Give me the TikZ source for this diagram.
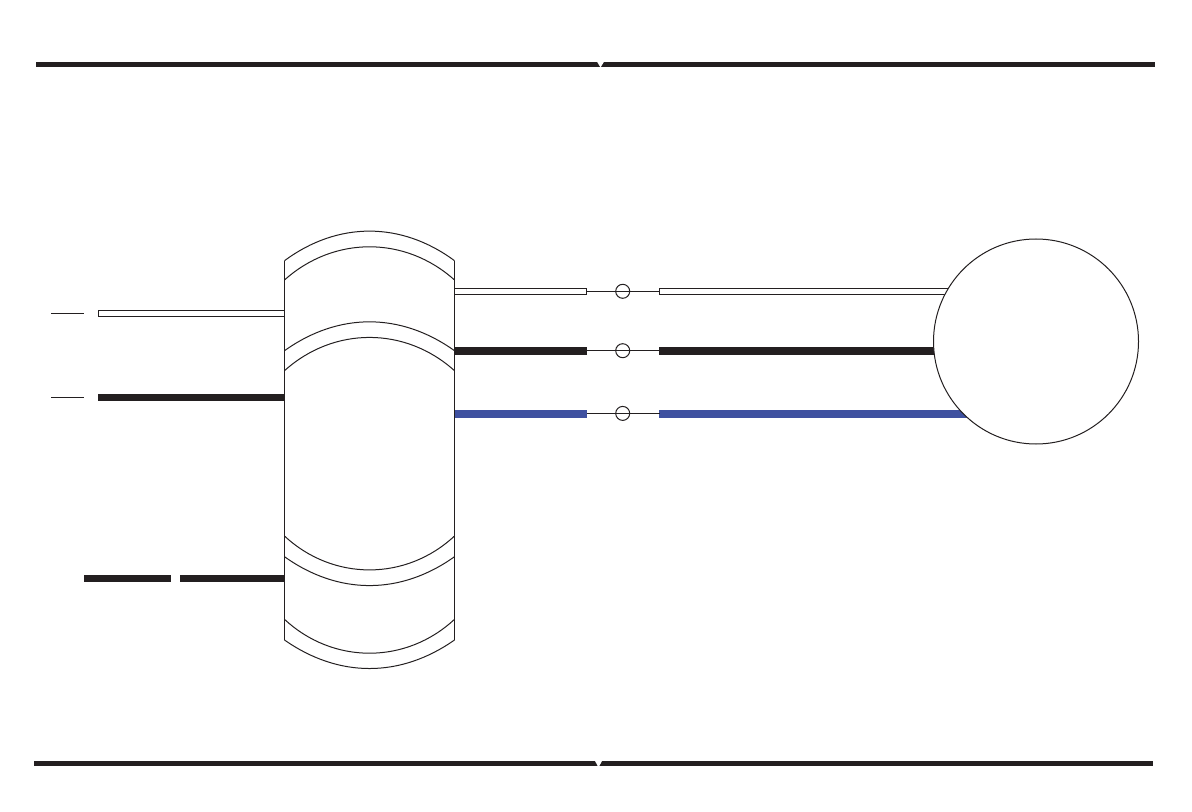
\documentclass[tikz,border=0pt]{standalone}
\usepackage{xcolor}
\definecolor{wireblack}{HTML}{231F20}
\definecolor{wireblue}{HTML}{3F51A0}
\tikzset{
    thinline/.style={line width=0.5pt,draw=wireblack},
    fuse/.style={circle,draw=wireblack,line width=0.5pt,inner sep=0pt,minimum size=7pt},
    motor/.style={circle,draw=wireblack,line width=0.5pt,fill=white,inner sep=0pt,minimum size=102.5pt},
    rail/.style={line width=2.6pt,draw=wireblack},
    notch/.style={fill=white,draw=none},
}
\begin{document}
\begin{tikzpicture}[x=0.5pt,y=-0.5pt]
    \useasboundingbox (0,0) rectangle (1192,812);
    % Top and bottom rails
    \draw[rail] (36,64.2) -- (1155,64.2);
    \draw[rail] (34,763.5) -- (1153,763.5);
    \fill[notch] (596,60) -- (605,60) -- (600.5,67.5) -- cycle;
    \fill[notch] (594,759) -- (603,759) -- (598.5,767.5) -- cycle;
    % Named points
    \coordinate (bodyTL) at (284.5,260.7);
    \coordinate (bodyBL) at (284.5,640);
    \coordinate (bodyTR) at (454.5,260.7);
    \coordinate (bodyBR) at (454.5,640);
    \coordinate (mtrC) at (1036,341.5);
    % Wires to motor, cut off by the motor circle
    \foreach \name/\ya/\yb/\ym/\col/\edge in {A/288.3/294.3/291.3/white/wireblack,B/347/354.7/350.7/wireblack/wireblack,C/410/417/413.4/wireblue/wireblue}{
        \coordinate (outL\name) at (454.5,\ya);
        \coordinate (fuseL\name) at (586.5,\yb);
        \coordinate (fuseR\name) at (659.5,\ya);
        \coordinate (outR\name) at (1036,\yb);
        \coordinate (tieL\name) at (586.5,\ym);
        \coordinate (tieR\name) at (659.5,\ym);
        \node[fuse] (fuse\name) at (622.7,\ym) {};
        \filldraw[line width=0.5pt,draw=\edge,fill=\col] (outL\name) rectangle (fuseL\name);
        \filldraw[line width=0.5pt,draw=\edge,fill=\col] (fuseR\name) rectangle (outR\name);
        \draw[thinline] (tieL\name) -- (tieR\name);
    }
    \node[motor] (mtr) at (mtrC) {};
    % Wires on the left
    \coordinate (wireD1) at (98,310.3);
    \coordinate (wireD2) at (284.5,316.3);
    \coordinate (wireE1) at (98,394);
    \coordinate (wireE2) at (284.5,400.7);
    \coordinate (wireF1) at (84,575);
    \coordinate (wireF2) at (170.7,581.7);
    \coordinate (wireG1) at (180,575);
    \coordinate (wireG2) at (284.5,581.7);
    \draw[thinline,fill=white] (wireD1) rectangle (wireD2);
    \fill[wireblack] (wireE1) rectangle (wireE2);
    \fill[wireblack] (wireF1) rectangle (wireF2);
    \fill[wireblack] (wireG1) rectangle (wireG2);
    \coordinate (stubD1) at (51,313.3);
    \coordinate (stubD2) at (84,313.3);
    \coordinate (stubE1) at (51,397.3);
    \coordinate (stubE2) at (84,397.3);
    \draw[thinline] (stubD1) -- (stubD2);
    \draw[thinline] (stubE1) -- (stubE2);
    % Body sides and arcs
    \draw[thinline] (bodyTL) -- (bodyBL);
    \draw[thinline] (bodyTR) -- (bodyBR);
    \foreach \ya/\bend in {260.7/36.5,280/41.9,350.7/35.5,370.7/42}{
        \draw[thinline] (284.5,\ya) to[bend left=\bend] (454.5,\ya);
    }
    \foreach \ya/\bend in {536/43,556.7/35.5,619.3/43,640/35}{
        \draw[thinline] (284.5,\ya) to[bend right=\bend] (454.5,\ya);
    }
\end{tikzpicture}
\end{document}
